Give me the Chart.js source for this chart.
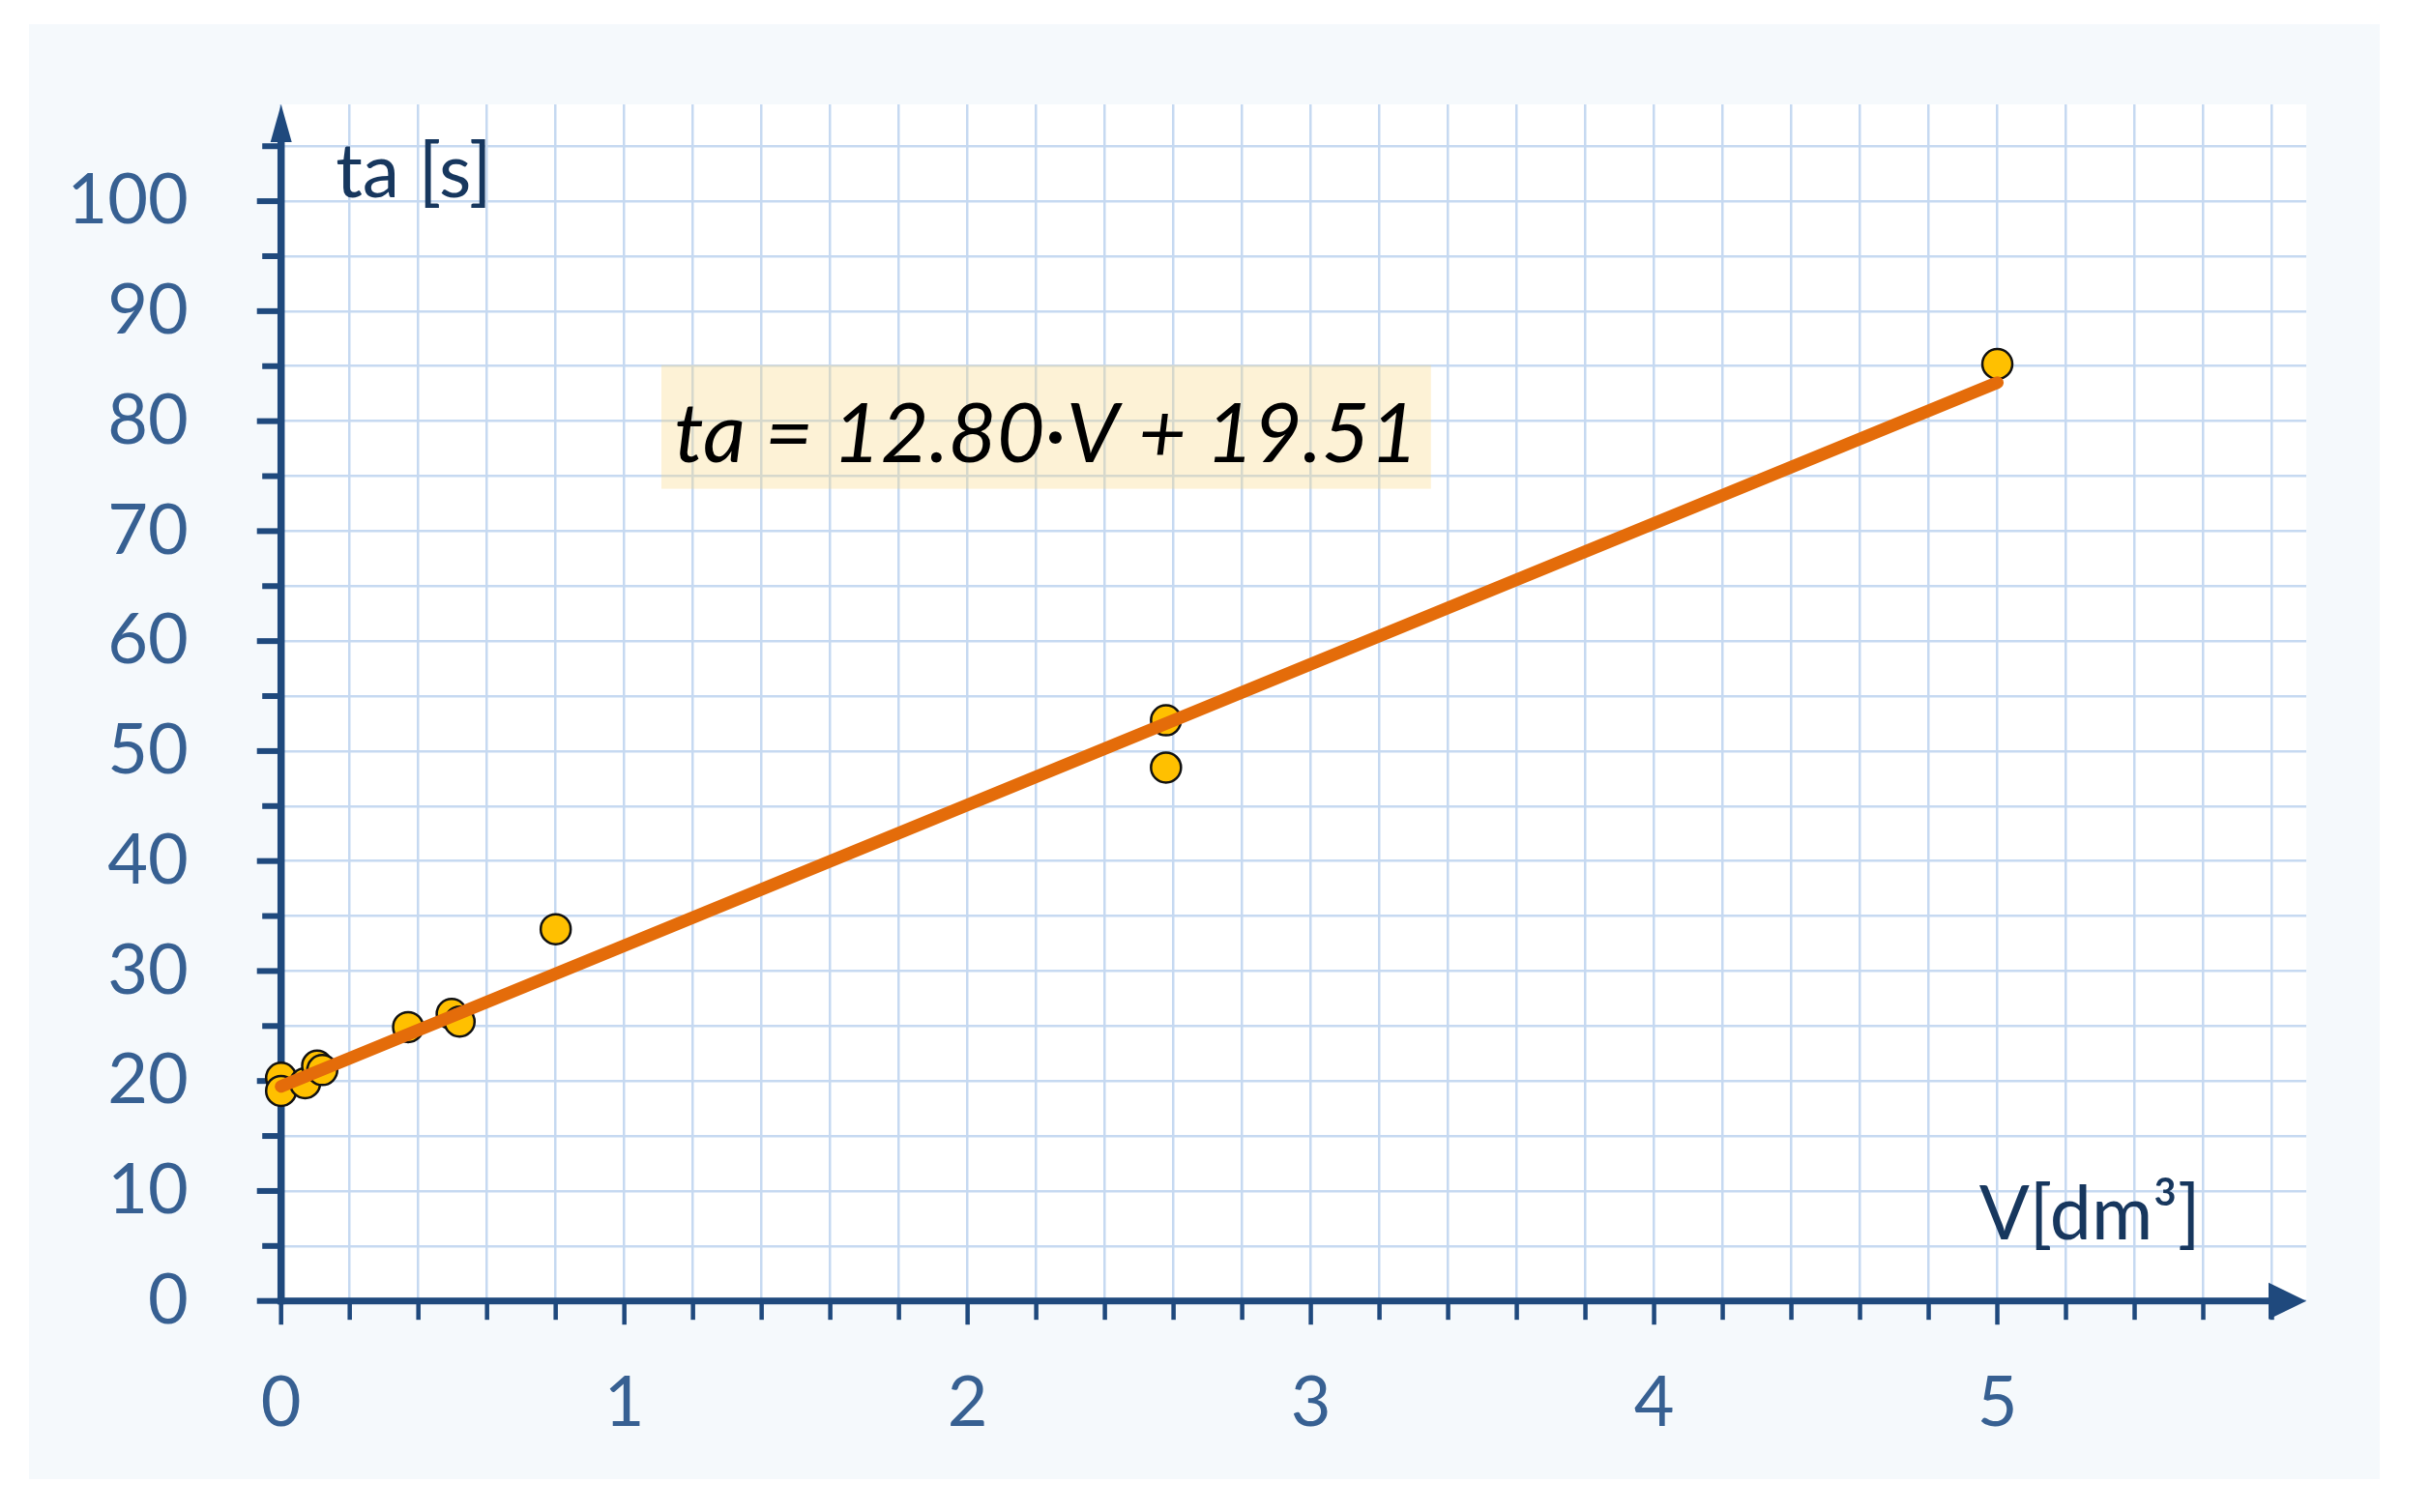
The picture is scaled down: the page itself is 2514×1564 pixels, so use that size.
<!DOCTYPE html>
<html>
<head>
<meta charset="utf-8">
<script src="https://cdn.jsdelivr.net/npm/chart.js@4.4.1/dist/chart.umd.min.js"></script>
<style>
  body { margin: 0; background: #ffffff; }
  #panel { position: absolute; left: 30px; top: 25px; width: 2431px; height: 1505px; background: #f5f9fc; }
</style>
</head>
<body>
<div id="panel"><canvas id="myChart"></canvas></div>
<script>
// measured points, V [dm3] and ta [s]
var volumes = [0, 0, 0.07, 0.105, 0.12, 0.37, 0.497, 0.52, 0.8, 2.578, 2.578, 5.0];
var times = [20.3, 19.1, 19.8, 21.4, 21.0, 24.9, 26.1, 25.4, 33.8, 52.8, 48.5, 85.2];

// fitted line, ends
var fitV = [0, 5];
var fitTa = [19.51, 83.51];
var equationText = 'ta = 12.80·V + 19.51';

var xTickLabels = ['0', '1', '2', '3', '4', '5'];
var yTickLabels = ['0', '10', '20', '30', '40', '50', '60', '70', '80', '90', '100'];

var axisColor = '#1f497d';

function labelFor(value, list) {
    var r = Math.round(value);
    if (Math.abs(value - r) > 1e-6) return '';
    return list.indexOf(String(r)) >= 0 ? String(r) : '';
}

const axesPlugin = {
    id: 'axes',
    beforeDraw(chart) {
        const a = chart.chartArea, ctx = chart.ctx;
        ctx.save();
        ctx.fillStyle = '#ffffff';
        ctx.fillRect(a.left, a.top, a.right - a.left, a.bottom - a.top);
        ctx.restore();
    },
    beforeDatasetsDraw(chart) {
        const ctx = chart.ctx, a = chart.chartArea;
        const x = chart.scales.x, y = chart.scales.y;
        ctx.save();

        // equation box
        const bx0 = x.getPixelForValue(1.108), bx1 = x.getPixelForValue(3.35);
        const by0 = y.getPixelForValue(85.1), by1 = y.getPixelForValue(73.85);
        ctx.fillStyle = 'rgba(248, 215, 128, 0.32)';
        ctx.fillRect(bx0, by0, bx1 - bx0, by1 - by0);
        ctx.font = 'italic 86px Lato';
        ctx.fillStyle = '#000000';
        ctx.textAlign = 'center';
        ctx.textBaseline = 'alphabetic';
        ctx.fillText(equationText, (bx0 + bx1) / 2, (by0 + by1) / 2 + 36);

        // axis titles
        ctx.font = '77px Lato';
        ctx.fillStyle = '#17375e';
        ctx.textAlign = 'left';
        ctx.fillText('ta [s]', x.getPixelForValue(0.159), y.getPixelForValue(100.4));
        ctx.fillText('V[dm³]', x.getPixelForValue(4.947), y.getPixelForValue(5.6));

        const x0 = x.getPixelForValue(0), y0 = y.getPixelForValue(0);
        ctx.fillStyle = axisColor;

        // tick marks
        y.ticks.forEach(function(t) {
            const py = y.getPixelForValue(t.value);
            const len = t.label !== '' ? 25 : 19.5;
            ctx.fillRect(x0 - len, py - 3, len, 6);
        });
        x.ticks.forEach(function(t) {
            const px = x.getPixelForValue(t.value);
            const len = t.label !== '' ? 24.5 : 19.5;
            ctx.fillRect(px - 2.25, y0, 4.5, len);
        });

        // axis lines
        ctx.fillRect(x0 - 3.75, a.top + 38, 7.5, y0 - a.top - 38 + 3.5);
        ctx.fillRect(x0 - 3.75, y0 - 3.5, a.right - 38 - x0 + 3.75, 7);

        // arrows
        ctx.beginPath();
        ctx.moveTo(x0, a.top);
        ctx.lineTo(x0 - 11, a.top + 39);
        ctx.lineTo(x0 + 11, a.top + 39);
        ctx.closePath();
        ctx.fill();
        ctx.beginPath();
        ctx.moveTo(a.right, y0);
        ctx.lineTo(a.right - 39, y0 - 19);
        ctx.lineTo(a.right - 39, y0 + 19);
        ctx.closePath();
        ctx.fill();

        ctx.restore();
    }
};

var points = volumes.map(function(v, i) { return { x: v, y: times[i] }; });
var fitLine = fitV.map(function(v, i) { return { x: v, y: fitTa[i] }; });

var ctx = document.getElementById('myChart').getContext('2d');
var myChart = new Chart(ctx, {
    type: 'scatter',
    data: {
        datasets: [
            {
                type: 'line',
                data: fitLine,
                borderColor: '#e46c0a',
                borderWidth: 13,
                borderCapStyle: 'round',
                pointRadius: 0,
                fill: false,
                clip: false,
                order: 0
            },
            {
                data: points,
                backgroundColor: '#ffc000',
                borderColor: '#111111',
                borderWidth: 2.5,
                pointRadius: 15.5,
                clip: false,
                order: 1
            }
        ]
    },
    options: {
        responsive: true,
        maintainAspectRatio: false,
        animation: false,
        layout: { padding: { top: 83, right: 76, left: 0, bottom: 0 } },
        plugins: {
            legend: { display: false },
            tooltip: { enabled: false }
        },
        scales: {
            x: {
                type: 'linear',
                min: 0,
                max: 5.9,
                afterFit: function(s) { s.height = 184.3; s.paddingLeft = 0; s.paddingRight = 0; },
                grid: { color: '#c6d9f1', lineWidth: 2.5, drawTicks: false },
                border: { display: false },
                ticks: {
                    stepSize: 0.2,
                    autoSkip: false,
                    includeBounds: false,
                    maxRotation: 0,
                    padding: 63,
                    color: '#376092',
                    font: { family: 'Lato', size: 72, lineHeight: 1.2 },
                    callback: function(value) { return labelFor(value, xTickLabels); }
                }
            },
            y: {
                type: 'linear',
                min: 0,
                max: 108.8,
                afterFit: function(s) { s.width = 260.7; s.paddingTop = 0; s.paddingBottom = 0; },
                grid: { color: '#c6d9f1', lineWidth: 2.5, drawTicks: false },
                border: { display: false },
                ticks: {
                    stepSize: 5,
                    autoSkip: false,
                    includeBounds: false,
                    padding: 96,
                    color: '#376092',
                    font: { family: 'Lato', size: 72, lineHeight: 1.2 },
                    callback: function(value) { return labelFor(value, yTickLabels); }
                }
            }
        }
    },
    plugins: [axesPlugin]
});
</script>
</body>
</html>
